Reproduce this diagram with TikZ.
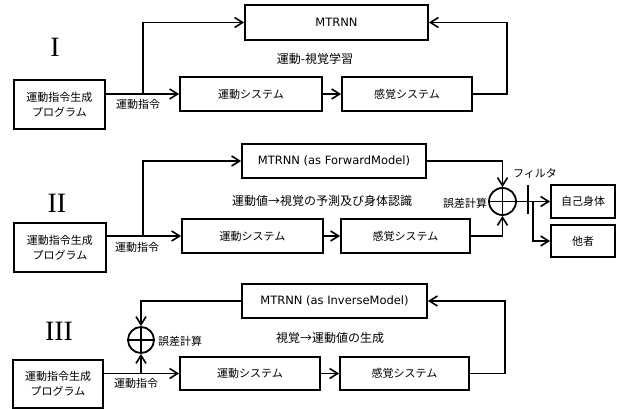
\documentclass[tikz,border=0pt]{standalone}
\usepackage{fontspec}
\setmainfont{DejaVu Sans}
\newfontfamily\jp{Noto Sans CJK JP}
\newfontfamily\rom{Liberation Serif}
\usetikzlibrary{arrows.meta}
\tikzset{
  box/.style={draw, line width=1.8pt, inner sep=0pt, align=center, font=\jp\fontsize{11}{15}\selectfont},
  mbox/.style={draw, line width=1.8pt, inner sep=0pt, align=center, font=\fontsize{11.5}{14}\selectfont},
  arr/.style={line width=1.8pt, -{Straight Barb[length=8pt,width=10pt,line width=1.6pt]}},
  ln/.style={line width=1.8pt},
  sum/.style={circle, draw, line width=1.8pt, inner sep=0pt},
  lbl/.style={inner sep=0pt, font=\jp\fontsize{11}{13}\selectfont},
  mid/.style={inner sep=0pt, font=\jp\fontsize{12}{14}\selectfont},
  num/.style={inner sep=0pt, font=\rom\fontsize{28}{30}\selectfont}
}
\begin{document}
\begin{tikzpicture}[x=1pt,y=-1pt]
\useasboundingbox (0,0) rectangle (619,409);
% ---------- Panel I
\node[num] (n1) at (55,47) {I};
\node[box, minimum width=91pt, minimum height=49pt] (p1) at (59.5,104.5) {運動指令生成\\プログラム};
\node[mbox, minimum width=183pt, minimum height=35pt] (m1) at (336.5,22.5) {MTRNN};
\node[box, minimum width=142pt, minimum height=34pt] (u1) at (251,94) {運動システム};
\node[box, minimum width=130pt, minimum height=34pt] (s1) at (407,94) {感覚システム};
\coordinate (b1) at (143,94);
\draw[arr] (p1.east|-u1.west) -- (u1.west);
\draw[arr] (b1) |- (m1.west);
\draw[arr] (u1.east) -- (s1.west);
\draw[arr] (s1.east) -- ++(34,0) |- (m1.east);
\node[lbl] (l1) at (138,104) {運動指令};
\node[mid] (t1) at (315,59) {運動-視覚学習};
% ---------- Panel II
\node[num] (n2) at (57,203) {II};
\node[box, minimum width=92pt, minimum height=49pt] (p2) at (60,247.5) {運動指令生成\\プログラム};
\node[mbox, minimum width=184pt, minimum height=34pt] (m2) at (334,161) {MTRNN (as ForwardModel)};
\node[box, minimum width=141pt, minimum height=34pt] (u2) at (252.5,236) {運動システム};
\node[box, minimum width=129pt, minimum height=34pt] (s2) at (405.5,236) {感覚システム};
\node[sum, minimum size=27pt] (c2) at (502.5,201.5) {};
\draw[ln] (c2.north) -- (c2.south) (c2.west) -- (c2.east);
\node[box, minimum width=64pt, minimum height=33pt] (self) at (583,201.5) {自己身体};
\node[box, minimum width=64pt, minimum height=32pt] (other) at (583,241) {他者};
\coordinate (b2) at (143,236);
\coordinate (f2) at (533,201.5);
\draw[arr] (p2.east|-u2.west) -- (u2.west);
\draw[arr] (b2) |- (m2.west);
\draw[arr] (u2.east) -- (s2.west);
\draw[arr] (m2.east) -| (c2.north);
\draw[arr] (s2.east) -| (c2.south);
\draw[arr] (c2.east) -- (self.west);
\draw[arr] (f2) |- (other.west);
\draw[ln] (528,185) -- (528,214);
\node[lbl] (e2) at (465,203) {誤差計算};
\node[lbl] (fl) at (535,173) {フィルタ};
\node[lbl] (l2) at (137,247) {運動指令};
\node[mid] (t2) at (322,201) {運動値→視覚の予測及び身体認識};
% ---------- Panel III
\node[num] (n3) at (59,331) {III};
\node[box, minimum width=90pt, minimum height=48pt] (p3) at (58,384) {運動指令生成\\プログラム};
\node[mbox, minimum width=185pt, minimum height=34pt] (m3) at (334.5,301) {MTRNN (as InverseModel)};
\node[box, minimum width=140pt, minimum height=33pt] (u3) at (250,373.5) {運動システム};
\node[box, minimum width=129pt, minimum height=33pt] (s3) at (404.5,373.5) {感覚システム};
\node[sum, minimum size=26pt] (c3) at (141,340) {};
\draw[ln] (c3.north) -- (c3.south) (c3.west) -- (c3.east);
\coordinate (b3) at (141,373.5);
\draw[arr] (p3.east|-u3.west) -- (u3.west);
\draw[arr] (u3.east) -- (s3.west);
\draw[arr] (s3.east) -- ++(35,0) |- (m3.east);
\draw[arr] (m3.west) -| (c3.north);
\draw[arr] (b3) -- (c3.south);
\node[lbl, anchor=west] (e3) at (158,341) {誤差計算};
\node[lbl] (l3) at (136,383) {運動指令};
\node[mid] (t3) at (330,338) {視覚→運動値の生成};
\end{tikzpicture}
\end{document}
